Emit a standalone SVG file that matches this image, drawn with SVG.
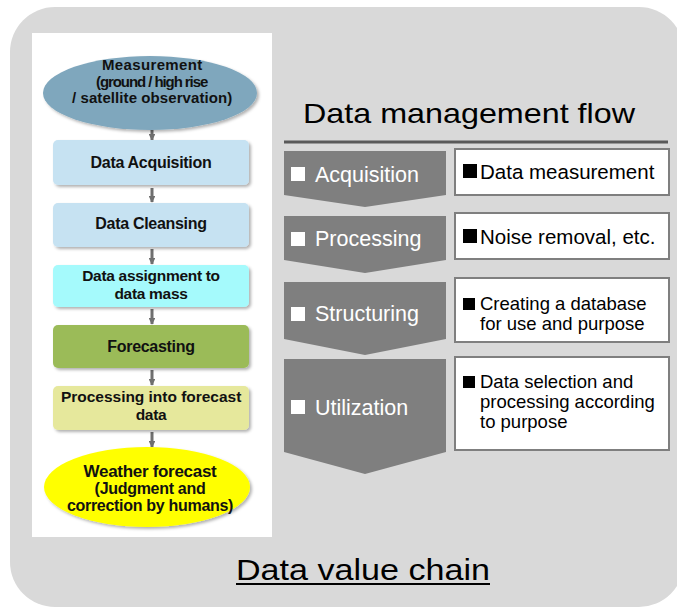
<svg xmlns="http://www.w3.org/2000/svg" width="677" height="608" viewBox="0 0 677 608">
<style>
.bg{fill:#d9d9d9}
.nodeTxt{font-family:"Liberation Sans",Arial,sans-serif;font-weight:bold;fill:#111;text-anchor:middle;letter-spacing:-0.3px}
.chev{fill:#7f7f7f}
.chevTxt{font-family:"Liberation Sans",Arial,sans-serif;font-size:21.5px;fill:#fff}
.box{fill:#fff;stroke:#7f7f7f;stroke-width:2}
.boxTxt{font-family:"Liberation Sans",Arial,sans-serif;fill:#000}
.conn{stroke:#6f6f6f;stroke-width:3;fill:none;marker-end:url(#ah)}
</style>
<defs>
<marker id="ah" viewBox="0 0 10 10" refX="9" refY="5" markerWidth="2.6" markerHeight="2.2" orient="auto" markerUnits="strokeWidth">
<path d="M0,0 L10,5 L0,10 Z" fill="#6f6f6f"/>
</marker>
<filter id="sh" x="-10%" y="-10%" width="125%" height="130%">
<feDropShadow dx="2" dy="2" stdDeviation="1.5" flood-color="#000" flood-opacity="0.3"/>
</filter>
</defs>
<rect class="bg" x="10" y="7" width="674" height="600" rx="45" ry="45"/>
<rect x="32" y="33" width="240" height="504" fill="#fff"/>

<g id="connectors">
<line class="conn" x1="152" y1="130" x2="152" y2="140"/>
<line class="conn" x1="152" y1="188" x2="152" y2="202"/>
<line class="conn" x1="152" y1="249" x2="152" y2="264"/>
<line class="conn" x1="152" y1="309" x2="152" y2="324"/>
<line class="conn" x1="152" y1="370" x2="152" y2="385"/>
<line class="conn" x1="152" y1="432" x2="152" y2="447"/>
</g>

<g id="n-measurement">
<ellipse cx="150" cy="93" rx="107" ry="37" fill="#7fa7bd" filter="url(#sh)"/>
<text class="nodeTxt" font-size="15" x="152" y="70" textLength="100">Measurement</text>
<text class="nodeTxt" font-size="15" x="152" y="86.5" textLength="112">(ground / high rise</text>
<text class="nodeTxt" font-size="15" x="152" y="103" textLength="160">/ satellite observation)</text>
</g>
<g id="n-acq">
<rect x="53" y="140" width="196" height="45" rx="5" fill="#c6e2f2" filter="url(#sh)"/>
<text class="nodeTxt" font-size="16" x="151" y="168">Data Acquisition</text>
</g>
<g id="n-clean">
<rect x="53" y="203" width="196" height="44" rx="5" fill="#c6e2f2" filter="url(#sh)"/>
<text class="nodeTxt" font-size="16" x="151" y="229">Data Cleansing</text>
</g>
<g id="n-assign">
<rect x="53" y="265" width="196" height="42" rx="5" fill="#a5fafc" filter="url(#sh)"/>
<text class="nodeTxt" font-size="15.5" x="151" y="281">Data assignment to</text>
<text class="nodeTxt" font-size="15.5" x="151" y="298.5">data mass</text>
</g>
<g id="n-forecasting">
<rect x="53" y="325" width="196" height="43" rx="5" fill="#9bbb59" filter="url(#sh)"/>
<text class="nodeTxt" font-size="16" x="151" y="352">Forecasting</text>
</g>
<g id="n-processing">
<rect x="53" y="386" width="196" height="44" rx="5" fill="#e6e89c" filter="url(#sh)"/>
<text class="nodeTxt" font-size="15.5" x="151" y="402" textLength="180">Processing into forecast</text>
<text class="nodeTxt" font-size="15.5" x="151" y="419.5">data</text>
</g>
<g id="n-weather">
<ellipse cx="147" cy="487" rx="103" ry="40" fill="#ffff00" filter="url(#sh)"/>
<text class="nodeTxt" font-size="17" x="150" y="477">Weather forecast</text>
<text class="nodeTxt" font-size="16" x="150" y="494">(Judgment and</text>
<text class="nodeTxt" font-size="16" x="150" y="511">correction by humans)</text>
</g>

<g id="title">
<text x="303" y="123" font-family="Liberation Sans, Arial, sans-serif" font-size="28" fill="#000" textLength="332" lengthAdjust="spacingAndGlyphs">Data management flow</text>
<line x1="284" y1="142" x2="668" y2="142" stroke="#595959" stroke-width="3"/>
</g>

<g id="s-acquisition">
<path class="chev" d="M284,151 H446 V195 L365,207 L284,195 Z"/>
<rect x="291" y="167" width="14" height="14" fill="#fff"/>
<text class="chevTxt" x="315" y="182">Acquisition</text>
</g>
<g id="s-processing">
<path class="chev" d="M284,216 H446 V260 L365,273 L284,260 Z"/>
<rect x="291" y="232" width="14" height="14" fill="#fff"/>
<text class="chevTxt" x="315" y="246">Processing</text>
</g>
<g id="s-structuring">
<path class="chev" d="M284,282 H446 V339 L365,355 L284,339 Z"/>
<rect x="291" y="307" width="14" height="14" fill="#fff"/>
<text class="chevTxt" x="315" y="321">Structuring</text>
</g>
<g id="s-utilization">
<path class="chev" d="M284,359 H446 V452 L365,474 L284,452 Z"/>
<rect x="291" y="400" width="14" height="14" fill="#fff"/>
<text class="chevTxt" x="315" y="415">Utilization</text>
</g>

<g id="d-acquisition">
<rect class="box" x="455" y="149" width="214" height="46"/>
<rect x="463" y="164" width="14" height="14" fill="#000"/>
<text class="boxTxt" font-size="20.5" x="480" y="179">Data measurement</text>
</g>
<g id="d-processing">
<rect class="box" x="455" y="213" width="214" height="46"/>
<rect x="463" y="229" width="14" height="14" fill="#000"/>
<text class="boxTxt" font-size="20.5" x="480" y="244">Noise removal, etc.</text>
</g>
<g id="d-structuring">
<rect class="box" x="455" y="278" width="214" height="64"/>
<rect x="463" y="298" width="12" height="12" fill="#000"/>
<text class="boxTxt" font-size="18.5" x="480" y="310">Creating a database</text>
<text class="boxTxt" font-size="18.5" x="480" y="330">for use and purpose</text>
</g>
<g id="d-utilization">
<rect class="box" x="455" y="357" width="214" height="93"/>
<rect x="463" y="376" width="12" height="12" fill="#000"/>
<text class="boxTxt" font-size="18.5" x="480" y="388">Data selection and</text>
<text class="boxTxt" font-size="18.5" x="480" y="408">processing according</text>
<text class="boxTxt" font-size="18.5" x="480" y="428">to purpose</text>
</g>

<g id="footer">
<text x="236" y="580" font-family="Liberation Sans, Arial, sans-serif" font-size="30" fill="#000" textLength="254" lengthAdjust="spacingAndGlyphs">Data value chain</text>
<line x1="236" y1="584" x2="490" y2="584" stroke="#000" stroke-width="2"/>
</g>
</svg>
